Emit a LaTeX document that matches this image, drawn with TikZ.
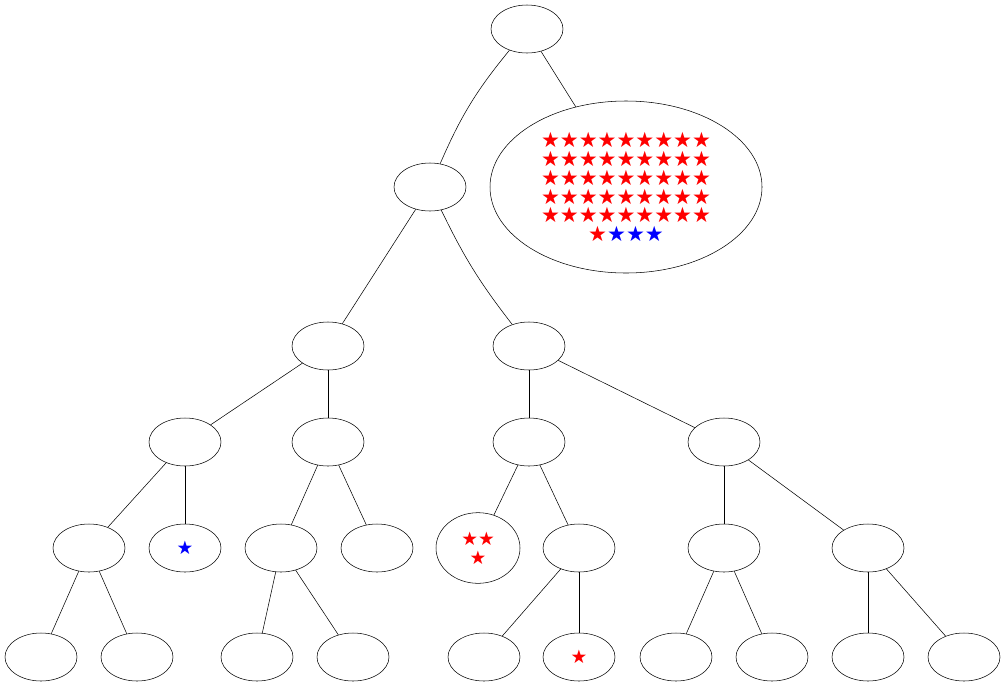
\documentclass[tikz,border=0pt]{standalone}
\usepackage{fontspec}
\usetikzlibrary{shapes.geometric}
\newfontfamily\sym{DejaVu Sans}
\begin{document}
\begin{tikzpicture}[x=0.75pt,y=-0.75pt,
  n/.style={draw,ellipse,minimum width=54pt,minimum height=36pt,inner sep=0pt}]
\useasboundingbox (0,0) rectangle (1005,689);
\newcommand{\R}{\textcolor{red}{★}}
\newcommand{\B}{\textcolor{blue}{★}}
\node[n] (root) at (527,29) {};
\node[n] (A) at (430,187) {};
\node[draw,ellipse,minimum width=204pt,minimum height=129pt,inner sep=0pt,font=\sym\fontsize{15.8}{14.2}\selectfont,align=center] (big) at (626,187) {\R\R\R\R\R\R\R\R\R\\\R\R\R\R\R\R\R\R\R\\\R\R\R\R\R\R\R\R\R\\\R\R\R\R\R\R\R\R\R\\\R\R\R\R\R\R\R\R\R\\\R\B\B\B};
\node[n] (B) at (328,346) {};
\node[n] (C) at (529,346) {};
\node[n] (D) at (185,442) {};
\node[n] (E) at (328,442) {};
\node[n] (F) at (529,442) {};
\node[n] (G) at (724,442) {};
\node[n] (H) at (89,548) {};
\node[n,font=\sym\fontsize{14}{14}\selectfont] (I) at (185,548) {\B};
\node[n] (J) at (281,548) {};
\node[n] (K) at (377,548) {};
\node[draw,ellipse,minimum width=63pt,minimum height=53pt,inner sep=0pt,font=\sym\fontsize{14}{14.2}\selectfont,align=center] (L) at (478,548) {\R\R\\\R};
\node[n] (M) at (579,548) {};
\node[n] (N) at (724,548) {};
\node[n] (O) at (868,548) {};
\node[n] (l1) at (41,657) {};
\node[n] (l2) at (137,657) {};
\node[n] (l3) at (257,657) {};
\node[n] (l4) at (353,657) {};
\node[n] (l5) at (484,657) {};
\node[n,font=\sym\fontsize{14}{14}\selectfont] (l6) at (579,657) {\R};
\node[n] (l7) at (676,657) {};
\node[n] (l8) at (772,657) {};
\node[n] (l9) at (868,657) {};
\node[n] (l10) at (964,657) {};
\draw (root) to[bend right=8] (A);
\draw (root) -- (big);
\draw (A) -- (B);
\draw (A) to[bend right=6] (C);
\foreach \a/\b in {B/D,B/E,C/F,C/G,D/H,D/I,E/J,E/K,F/L,F/M,G/N,G/O,H/l1,H/l2,J/l3,J/l4,M/l5,M/l6,N/l7,N/l8,O/l9,O/l10}
  \draw (\a) -- (\b);
\end{tikzpicture}
\end{document}
